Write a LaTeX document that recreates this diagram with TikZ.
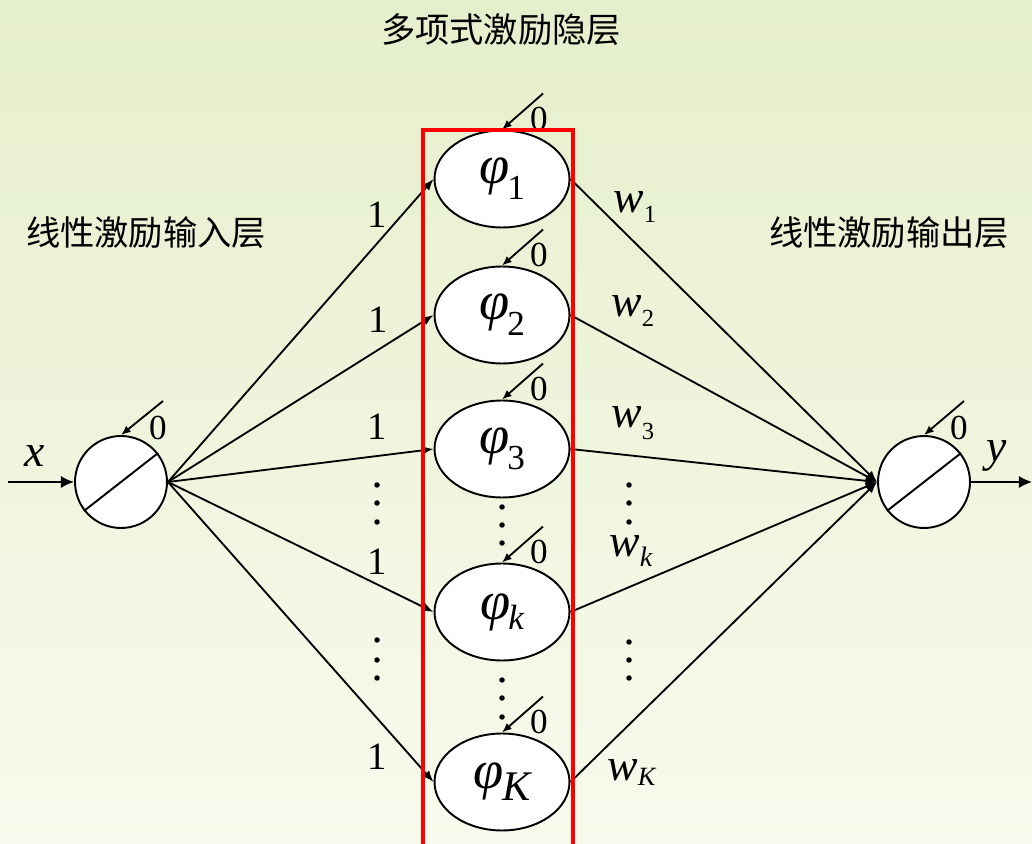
\documentclass[tikz,border=0pt]{standalone}
\usepackage{fontspec}
\setmainfont{Liberation Serif}
\newfontfamily\cjk{Noto Sans CJK SC}
\usetikzlibrary{shapes.geometric,arrows.meta}
\definecolor{bgtop}{RGB}{230,239,204}
\definecolor{bgmid}{RGB}{239,245,220}
\definecolor{bgbot}{RGB}{248,250,237}
\newcommand{\phitext}[2]{{\fontsize{31}{31}\selectfont\itshape φ}\kern-1pt\raisebox{-#2}{#1}}
\newcommand{\wlab}[2]{{\fontsize{26}{26}\selectfont\itshape w}\raisebox{-#2}{#1}}
\begin{document}
\begin{tikzpicture}[x=0.02cm,y=-0.02cm,
  neuron/.style={circle, draw, line width=1.1pt, fill=white, minimum size=1.84cm, inner sep=0pt},
  hid/.style={ellipse, draw, line width=1.1pt, fill=white, minimum width=2.7cm, minimum height=1.94cm, inner sep=0pt},
  conn/.style={line width=1.05pt, -{Latex[length=6.5pt,width=5pt]}},
  bias/.style={line width=1.05pt, -{Latex[length=5.5pt,width=4.5pt]}},
  ioarrow/.style={line width=1.05pt, -{Latex[length=7.5pt,width=7pt]}},
  zero/.style={inner sep=0pt, font=\fontsize{20}{20}\selectfont},
  one/.style={inner sep=0pt, font=\fontsize{22}{22}\selectfont},
  wl/.style={inner sep=0pt, anchor=base west},
  cn/.style={inner sep=0pt, font=\cjk\fontsize{19.5}{19.5}\selectfont},
  redbox/.style={draw=red, line width=2.2pt}
]
\path[use as bounding box] (0,0) rectangle (1032,844);
\clip (0,0) rectangle (1032,844);
\shade[top color=bgtop, middle color=bgmid, bottom color=bgbot] (0,0) rectangle (1032,844);

% titles
\node[cn] (title) at (501,30) {多项式激励隐层};
\node[cn] (inlab) at (146,233) {线性激励输入层};
\node[cn] (outlab) at (889,233) {线性激励输出层};

% neurons
\node[neuron] (in) at (121,482) {};
\node[neuron] (out) at (924,482) {};
\draw[line width=1.1pt] (in.218) -- (in.38);
\draw[line width=1.1pt] (out.218) -- (out.38);

\node[hid] (h1) at (502,179) {\phitext{\fontsize{20}{20}\selectfont 1}{9pt}};
\node[hid] (h2) at (502,315) {\phitext{\fontsize{20}{20}\selectfont 2}{9pt}};
\node[hid] (h3) at (502,449) {\phitext{\fontsize{20}{20}\selectfont 3}{9pt}};
\node[hid] (hk) at (502,612) {\phitext{\fontsize{20}{20}\selectfont\itshape k}{6pt}};
\node[hid] (hK) at (502,782) {\phitext{\fontsize{24}{24}\selectfont\itshape K}{7pt}};

% input / output arrows
\coordinate (xin) at (8,482);
\coordinate (yout) at (1032,482);
\draw[ioarrow] (xin) -- (in.west);
\draw[ioarrow] (out.east) -- (yout);
\node[inner sep=0pt, font=\fontsize{26}{26}\selectfont\itshape] (xl) at (35,456) {x};
\node[inner sep=0pt, font=\fontsize{26}{26}\selectfont\itshape] (yl) at (997,456) {y};

% connections
\foreach \h in {h1,h2,h3,hk,hK}{
  \draw[conn] (in.east) -- (\h.west);
  \draw[conn] (\h.east) -- (out.west);
}

% bias arrows
\foreach \h/\n in {h1/1,h2/2,h3/3,hk/k,hK/K}{
  \coordinate (b\n) at ([shift={(41,-36)}]\h.north);
  \draw[bias] (b\n) -- (\h.north);
  \node[zero] (z\n) at ([shift={(37,-11)}]\h.north) {0};
}
\coordinate (bin) at ([shift={(42,-34)}]in.north);
\draw[bias] (bin) -- (in.north);
\node[zero] (zin) at ([shift={(37,-7)}]in.north) {0};
\coordinate (bout) at ([shift={(40,-34)}]out.north);
\draw[bias] (bout) -- (out.north);
\node[zero] (zout) at ([shift={(35,-7)}]out.north) {0};

% red box
\draw[redbox] (423,130) rectangle (573,860);

% weight labels "1"
\node[one] (o1) at (377,215) {1};
\node[one] (o2) at (378,320) {1};
\node[one] (o3) at (377,427) {1};
\node[one] (ok) at (377,562) {1};
\node[one] (oK) at (377,757) {1};

% output weights
\node[wl] (w1) at (613,213) {\wlab{\fontsize{14}{14}\selectfont 1}{5.5pt}};
\node[wl] (w2) at (611,317) {\wlab{\fontsize{14}{14}\selectfont 2}{5.5pt}};
\node[wl] (w3) at (611,428) {\wlab{\fontsize{14}{14}\selectfont 3}{6.5pt}};
\node[wl] (wk) at (609,557) {\wlab{\fontsize{16}{16}\selectfont\itshape k}{5.5pt}};
\node[wl] (wK) at (607,780) {\wlab{\fontsize{15}{15}\selectfont\itshape K}{3pt}};

% dots
\foreach \x/\y in {502/507,502/525,502/543,502/680,502/698,502/717,
                   377/485,377/503,377/522,377/640,377/660,377/678,
                   629/485,629/503,629/522,629/642,629/660,629/678}{
  \fill (\x,\y) circle[radius=0.055cm];
}
\end{tikzpicture}
\end{document}
